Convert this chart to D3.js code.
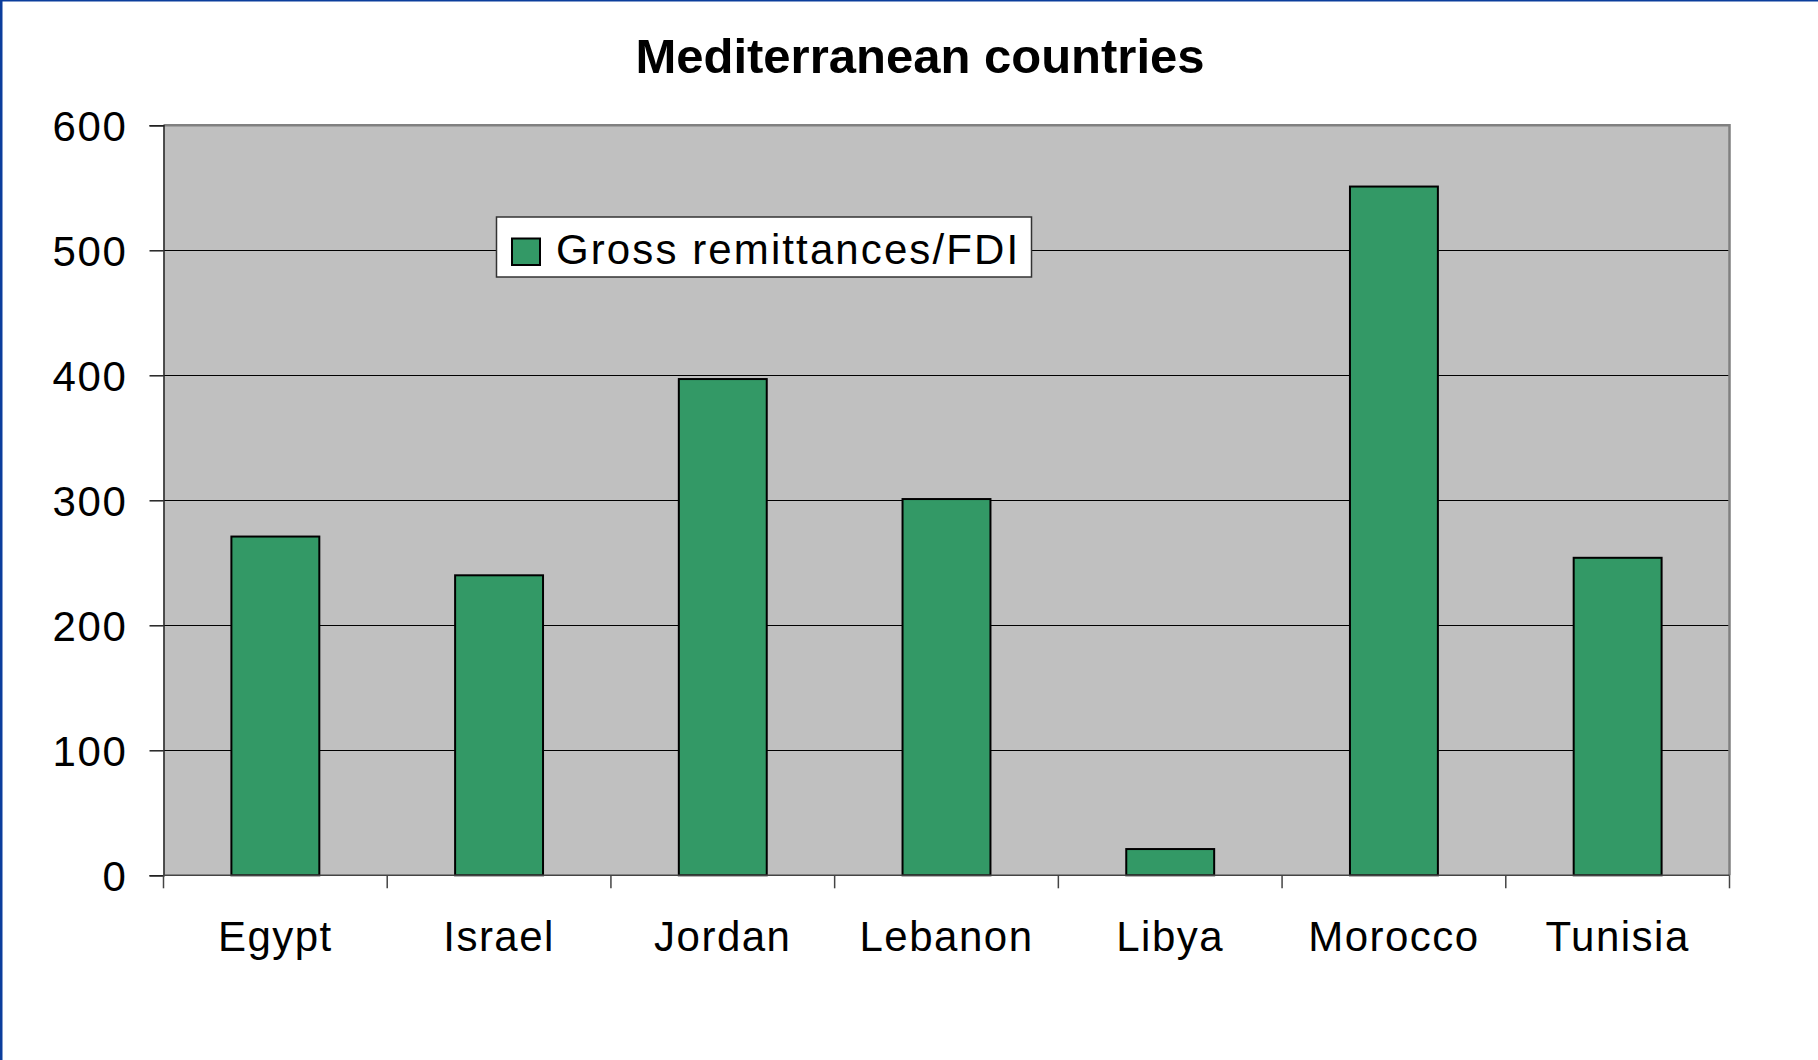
<!DOCTYPE html>
<html>
<head>
<meta charset="utf-8">
<script src="https://cdn.jsdelivr.net/npm/d3@7"></script>
<style>
  body { margin: 0; background: #fff; }
  svg { display: block; }
  text { font-family: "Liberation Sans", Arial, sans-serif; fill: #000; }
</style>
</head>
<body>
<svg id="chart" width="1818" height="1060"></svg>
<script>
// data
const countries = ["Egypt", "Israel", "Jordan", "Lebanon", "Libya", "Morocco", "Tunisia"];
const remittancesFdi = [271, 240, 397, 301, 21, 551, 254];
const yTicks = [0, 100, 200, 300, 400, 500, 600];
const seriesName = "Gross remittances/FDI";
const chartTitle = "Mediterranean countries";

const svg = d3.select("#chart");
const W = 1818, H = 1060;
const plot = {left: 163.5, right: 1729.5, top: 125.3, bottom: 875.3};

// frame of the slide (blue edges top and left)
svg.append("rect").attr("width", W).attr("height", H).attr("fill", "#fff");
svg.append("line").attr("x1", 0).attr("x2", W).attr("y1", 0.75).attr("y2", 0.75)
  .attr("stroke", "#0B3D9C").attr("stroke-width", 1.5);
svg.append("line").attr("x1", 1.25).attr("x2", 1.25).attr("y1", 0).attr("y2", H)
  .attr("stroke", "#0B3D9C").attr("stroke-width", 2.5);

const x = d3.scaleBand()
  .domain(countries)
  .range([plot.left, plot.right])
  .paddingInner(0.607)
  .paddingOuter(0.3035);

const y = d3.scaleLinear()
  .domain([0, 600])
  .range([plot.bottom, plot.top]);

// plot area
svg.append("rect")
  .attr("x", plot.left).attr("y", plot.top)
  .attr("width", plot.right - plot.left).attr("height", plot.bottom - plot.top)
  .attr("fill", "#C0C0C0");

// gridlines
svg.append("g").selectAll("line")
  .data(yTicks.filter(d => d > 0 && d < 600))
  .join("line")
  .attr("x1", plot.left).attr("x2", plot.right)
  .attr("y1", d => Math.round(y(d)) + 0.5).attr("y2", d => Math.round(y(d)) + 0.5)
  .attr("stroke", "#000").attr("stroke-width", 1);

// top and right border of plot
svg.append("path")
  .attr("d", `M${plot.left},${plot.top} H${plot.right} V${plot.bottom}`)
  .attr("fill", "none").attr("stroke", "#808080").attr("stroke-width", 2.5);

// bars
svg.append("g").selectAll("rect")
  .data(countries.map((c, i) => ({c, v: remittancesFdi[i]})))
  .join("rect")
  .attr("x", d => x(d.c))
  .attr("y", d => y(d.v))
  .attr("width", x.bandwidth())
  .attr("height", d => y(0) - y(d.v))
  .attr("fill", "#339966")
  .attr("stroke", "#000")
  .attr("stroke-width", 2);

// y axis
const yAxis = svg.append("g")
  .attr("transform", `translate(${plot.left},0)`)
  .call(d3.axisLeft(y).tickValues(yTicks).tickSize(14).tickPadding(22));
yAxis.select(".domain").attr("stroke", "#222").attr("stroke-width", 1.5);
yAxis.selectAll(".tick line").attr("stroke", "#222").attr("stroke-width", 1.5);
yAxis.selectAll(".tick text")
  .attr("font-size", 42).attr("letter-spacing", "1.6px")
  .attr("dy", "0.35em")
  .style("font-family", "'Liberation Sans', Arial, sans-serif");

// x axis: ticks at category boundaries
const bounds = countries.map(c => x(c) - x.step() * x.paddingOuter()).concat([plot.right]);
const xAxisG = svg.append("g");
xAxisG.append("line")
  .attr("x1", plot.left).attr("x2", plot.right)
  .attr("y1", plot.bottom).attr("y2", plot.bottom)
  .attr("stroke", "#444").attr("stroke-width", 1.5);
xAxisG.selectAll("line.tk")
  .data(bounds)
  .join("line").attr("class", "tk")
  .attr("x1", d => d).attr("x2", d => d)
  .attr("y1", plot.bottom).attr("y2", plot.bottom + 13)
  .attr("stroke", "#444").attr("stroke-width", 1.5);
xAxisG.selectAll("text")
  .data(countries)
  .join("text")
  .attr("x", d => x(d) + x.bandwidth() / 2)
  .attr("y", 950.5)
  .attr("text-anchor", "middle")
  .attr("font-size", 42)
  .attr("letter-spacing", "1.5px")
  .text(d => d);

// title
svg.append("text")
  .attr("x", 920).attr("y", 73.3)
  .attr("text-anchor", "middle")
  .attr("font-size", 49).attr("font-weight", "bold")
  .text(chartTitle);

// legend
const lg = svg.append("g").attr("transform", "translate(496.5,217)");
lg.append("rect")
  .attr("width", 535).attr("height", 60)
  .attr("fill", "#fff").attr("stroke", "#333").attr("stroke-width", 1.5);
lg.append("rect")
  .attr("x", 15.5).attr("y", 21.5).attr("width", 28).attr("height", 26.5)
  .attr("fill", "#339966").attr("stroke", "#000").attr("stroke-width", 2);
lg.append("text")
  .attr("x", 59.5).attr("y", 47)
  .attr("font-size", 42).attr("letter-spacing", "2.1px")
  .text(seriesName);
</script>
</body>
</html>
